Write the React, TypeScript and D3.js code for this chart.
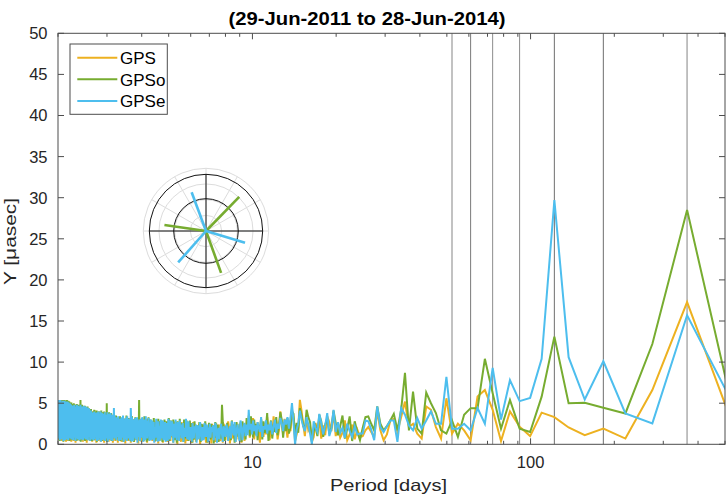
import React from "react";
import * as d3 from "d3";

// ---------- data ----------
const TITLE = "(29-Jun-2011 to 28-Jun-2014)";
const X_LABEL = "Period [days]";
const Y_LABEL = "Y [\u03BCasec]";
const SERIES_NAMES = ["GPS", "GPSo", "GPSe"];
const SERIES_COLORS = ["#EDB120", "#77AC30", "#4DBEEE"];
const SPAN_DAYS = 1096; // 29-Jun-2011 .. 28-Jun-2014
const HARMONICS = d3.range(2, 549); // Fourier bins k -> period SPAN_DAYS / k

const Y_TICKS = [0, 5, 10, 15, 20, 25, 30, 35, 40, 45, 50];
const X_TICKS = [10, 100];
const X_MINOR_TICKS = [2, 3, 4, 5, 6, 7, 8, 9, 20, 30, 40, 50, 60, 70, 80, 90, 200, 300, 400, 500];
const REF_PERIODS = [365.25, 182.625, 121.75, 91.3125, 73.05, 60.875, 52.18];
const REF_COLORS = ["#a8a8a8", "#6e6e6e", "#6e6e6e", "#8c8c8c", "#8c8c8c", "#7a7a7a", "#a8a8a8"];

// k = 2..45
const gpsLow = [1.3, 17.3, 6.6, 0.7, 1.9, 1.1, 2.05, 3.3, 3.85, 1.0, 2.15, 4.0, 0.4, 4.2, 6.6, 5.8, 0.5, 1.7, 2.5, 1.3, 5.6, 0.7, 2.1, 4.2, 4.6, 0.7, 1.3, 2.5, 2.1, 5.2, 3.3, 1.5, 3.1, 2.9, 1.2, 0.5, 1.7, 4.0, 0.9, 1.5, 2.1, 1.7, 1.0, 0.9];
const gpsoLow = [2.5, 28.5, 12.2, 3.75, 4.45, 5.05, 5.0, 13.1, 5.8, 1.5, 1.9, 5.4, 1.9, 6.2, 10.4, 4.4, 4.4, 3.6, 0.9, 2.9, 1.3, 1.7, 3.8, 5.0, 6.3, 1.3, 1.9, 6.4, 1.7, 8.7, 4.2, 1.7, 3.7, 2.9, 2.2, 1.7, 2.5, 4.6, 1.7, 2.5, 3.4, 3.3, 2.0, 0.5];
const gpseLow = [4.2, 15.7, 2.55, 3.75, 10.1, 5.45, 10.6, 29.7, 10.4, 5.65, 5.25, 7.8, 3.0, 9.3, 2.5, 4.4, 1.7, 2.5, 1.9, 1.9, 8.2, 2.5, 2.5, 4.0, 2.9, 1.9, 3.2, 1.7, 2.3, 3.6, 4.4, 0.3, 2.9, 2.9, 2.2, 1.5, 2.1, 4.6, 0.5, 1.8, 2.8, 2.9, 1.3, 1.3];

// k = 46..115
const gpsMid = [
  1.8, 0.6, 2.4, 1.2, 0.5, 2.9, 1.4, 0.8, 2.2, 1.0,
  3.9, 1.6, 2.7, 3.4, 1.1, 2.3, 0.7, 3.0, 1.5, 2.6,
  0.9, 0.3, 2.1, 1.7, 3.2, 1.0, 2.5, 4.1, 5.4, 2.0,
  1.2, 0.4, 3.0, 4.3, 1.6, 2.8, 0.8, 2.2, 3.1, 1.3,
  2.5, 4.0, 1.7, 0.6, 2.9, 1.9, 3.4, 1.1, 2.3, 0.5,
  1.8, 3.3, 1.2, 2.6, 0.9, 2.1, 3.0, 0.2, 1.5, 2.7,
  1.1, 2.4, 0.6, 3.2, 1.7, 2.0, 0.8, 3.5, 1.4, 2.6,
];
const gpsoMid = [
  1.5, 2.8, 0.4, 3.4, 1.9, 0.7, 3.5, 2.2, 1.1, 2.6,
  4.1, 2.0, 1.3, 3.1, 2.4, 0.9, 2.8, 3.6, 1.0, 2.2,
  1.6, 0.5, 2.7, 3.3, 4.2, 1.8, 2.3, 3.5, 4.4, 1.4,
  2.6, 1.0, 3.7, 4.0, 2.1, 1.3, 3.2, 1.6, 2.7, 0.8,
  3.0, 3.9, 2.2, 1.1, 3.3, 1.5, 2.4, 0.7, 2.9, 1.8,
  0.4, 3.8, 2.0, 1.4, 2.8, 0.6, 3.1, 1.9, 2.3, 0.5,
  2.5, 1.2, 3.0, 0.8, 2.2, 3.4, 1.0, 2.6, 1.5, 3.2,
];
const gpseMid = [
  1.2, 2.2, 0.9, 1.6, 2.5, 0.8, 2.0, 1.4, 2.7, 1.5,
  4.2, 1.9, 1.0, 3.8, 2.3, 1.2, 2.6, 3.7, 1.5, 2.0,
  2.8, 0.0, 1.3, 2.4, 3.3, 1.6, 2.2, 3.0, 4.1, 2.5,
  1.8, 0.0, 2.7, 5.0, 3.2, 1.9, 3.3, 2.4, 3.0, 1.6,
  2.6, 3.2, 1.9, 2.5, 1.4, 3.0, 2.1, 1.2, 2.8, 1.7,
  2.4, 1.3, 2.9, 1.8, 2.2, 0.9, 3.3, 1.5, 2.0, 2.7,
  1.0, 2.3, 1.6, 2.9, 1.2, 2.5, 1.8, 4.2, 1.1, 2.4,
];

// k = 116..548
const gpsDense = [
  2.1, 0.4, 2.5, 1.0, 0.2, 2.7, 1.5, 0.6, 2.2, 1.8,
  0.3, 2.4, 1.2, 0.7, 2.6, 1.6, 0.1, 2.0, 2.8, 0.9,
  2.3, 0.5, 1.7, 2.5, 0.2, 1.9, 1.1, 0.4, 2.4, 1.4,
  2.0, 0.6, 2.6, 0.3, 1.6, 2.2, 0.8, 2.5, 0.1, 1.8,
  0.9, 2.3, 0.4, 2.1, 1.3, 0.2, 2.6, 1.0, 1.7, 2.4,
  0.5, 2.0, 1.2, 0.0, 2.5, 1.5, 0.7, 2.2, 1.9, 0.3,
  2.4, 1.1, 0.6, 2.7, 1.4, 2.0, 0.2, 1.8, 0.8, 2.5,
  1.0, 2.6, 0.4, 2.2, 1.3, 0.1, 2.8, 1.6, 0.5, 2.3,
  1.2, 2.7, 0.3, 1.9, 2.4, 0.7, 1.5, 2.6, 0.0, 2.1,
  1.4, 0.6, 2.8, 1.1, 2.3, 0.2, 1.8, 2.5, 0.9, 2.0,
  0.4, 2.6, 1.5, 0.8, 2.9, 1.2, 0.3, 2.4, 1.7, 2.1,
  0.6, 2.3, 1.0, 2.7, 0.2, 1.9, 2.5, 0.9, 1.4, 2.8,
  0.5, 2.0, 1.3, 0.1, 2.6, 1.6, 2.2, 0.7, 2.9, 1.1,
  0.3, 2.5, 1.8, 0.8, 2.2, 0.4, 2.7, 1.3, 0.6, 2.4,
  1.5, 2.9, 0.5, 2.1, 1.2, 3.1, 0.2, 2.6, 1.7, 0.8,
  3.0, 1.1, 2.3, 0.4, 2.8, 1.4, 0.7, 3.2, 1.9, 0.3,
  2.5, 1.3, 3.0, 0.6, 2.2, 1.6, 0.1, 2.9, 1.2, 2.4,
  0.5, 3.1, 1.5, 0.9, 2.7, 1.1, 0.3, 3.0, 1.8, 2.2,
  0.7, 2.6, 1.4, 3.3, 0.2, 2.4, 1.0, 2.9, 0.6, 3.2,
  1.6, 0.4, 2.8, 1.2, 3.0, 0.8, 2.3, 1.5, 0.1, 3.1,
  1.3, 2.5, 0.6, 3.2, 1.7, 0.9, 2.7, 1.1, 0.3, 2.9,
  1.9, 0.5, 3.3, 1.0, 2.4, 0.7, 3.0, 1.4, 0.2, 2.8,
  1.2, 3.1, 0.6, 2.6, 1.5, 0.4, 3.4, 1.1, 2.2, 0.8,
  3.2, 1.3, 0.2, 3.5, 1.7, 2.8, 0.5, 3.3, 1.0, 2.6,
  0.7, 3.6, 1.4, 2.9, 0.3, 3.4, 1.2, 0.8, 3.8, 1.6,
  2.7, 0.4, 3.5, 1.1, 3.1, 0.6, 3.9, 1.5, 0.2, 3.3,
  1.3, 3.7, 0.8, 2.9, 1.6, 0.5, 3.8, 1.0, 3.2, 0.3,
  3.6, 1.4, 0.7, 4.0, 1.2, 3.3, 0.4, 3.7, 1.7, 0.9,
  3.9, 1.1, 3.4, 0.2, 3.6, 1.5, 0.6, 4.1, 1.3, 3.0,
  0.5, 3.8, 1.6, 0.8, 3.5, 1.2, 4.0, 0.3, 3.3, 1.4,
  0.7, 4.2, 1.0, 3.6, 1.8, 0.4, 4.0, 1.3, 3.4, 0.6,
  4.3, 1.5, 0.9, 4.1, 1.1, 3.7, 0.2, 4.4, 1.6, 0.8,
  3.9, 1.2, 4.5, 0.5, 3.8, 1.4, 0.7, 4.6, 1.0, 4.0,
  0.3, 4.4, 1.7, 0.9, 4.2, 1.3, 4.7, 0.6, 3.9, 1.1,
  0.4, 4.5, 1.5, 4.1, 0.8, 4.6, 1.2, 0.5, 4.3, 1.6,
  4.7, 0.9, 4.2, 1.3, 0.6, 4.8, 1.0, 4.4, 0.2, 4.5,
  1.4, 0.7, 4.6, 1.1, 4.9, 0.4, 4.3, 1.5, 0.8, 4.7,
  1.2, 4.5, 0.6, 4.8, 1.3, 0.3, 5.0, 1.0, 4.4, 0.9,
  4.9, 1.4, 0.5, 5.1, 1.1, 4.7, 0.8, 5.2, 1.3, 0.4,
  5.0, 1.6, 4.8, 0.7, 5.3, 1.0, 4.9, 0.3, 5.1, 1.2,
  0.6, 5.2, 1.4, 4.9, 0.9, 5.3, 1.1, 0.5, 5.0, 1.5,
  5.4, 0.8, 5.1, 1.2, 0.4, 5.2, 1.3, 4.9, 0.7, 5.3,
  1.0, 5.1, 0.6, 5.4, 1.4, 4.8, 0.9, 5.3, 1.1, 0.5,
  5.2, 1.3, 4.9,
];
const gpsoDense = [
  0.6, 2.3, 1.4, 2.8, 0.3, 1.9, 2.5, 0.9, 1.6, 2.7,
  1.1, 0.2, 2.4, 1.7, 2.9, 0.5, 2.1, 1.3, 0.8, 2.6,
  1.4, 2.2, 0.4, 1.9, 2.6, 4.8, 0.7, 2.0, 1.5, 0.3,
  2.4, 1.2, 0.8, 2.7, 1.6, 0.1, 2.3, 1.4, 2.5, 0.6,
  1.8, 2.6, 0.9, 0.2, 2.2, 1.5, 2.8, 0.7, 1.3, 2.4,
  1.0, 2.5, 0.3, 1.9, 2.7, 0.8, 1.6, 2.3, 0.5, 2.0,
  1.3, 2.8, 0.6, 2.1, 0.2, 2.6, 1.4, 0.9, 2.9, 1.1,
  0.4, 2.5, 1.7, 2.9, 0.7, 2.2, 1.2, 3.0, 0.3, 1.8,
  2.6, 0.9, 2.0, 1.5, 3.1, 0.6, 2.3, 1.1, 2.8, 0.2,
  1.9, 2.7, 0.5, 2.4, 1.3, 3.0, 0.8, 2.1, 1.6, 2.9,
  1.0, 2.3, 0.4, 3.2, 1.7, 2.5, 0.6, 2.8, 1.2, 2.0,
  1.5, 3.0, 0.7, 2.2, 1.8, 0.3, 2.9, 1.1, 2.6, 1.4,
  2.8, 0.5, 2.0, 3.1, 1.2, 0.9, 2.4, 1.9, 0.4, 2.7,
  1.6, 0.8, 3.2, 1.0, 2.5, 1.7, 0.6, 2.8, 1.3, 3.0,
  0.9, 2.4, 1.5, 3.3, 0.5, 2.7, 1.8, 0.3, 3.0, 1.2,
  2.2, 0.7, 3.4, 1.6, 2.5, 0.4, 2.9, 1.3, 3.1, 0.8,
  1.9, 2.6, 1.1, 0.5, 5.4, 1.4, 2.3, 0.9, 3.2, 1.7,
  2.8, 0.6, 2.1, 3.3, 1.0, 2.6, 0.3, 3.0, 1.5, 2.4,
  1.2, 3.4, 0.7, 2.9, 1.8, 0.4, 3.1, 1.3, 2.5, 0.9,
  3.2, 1.6, 0.5, 2.8, 1.1, 3.5, 0.8, 2.4, 1.4, 3.0,
  0.6, 2.7, 1.9, 0.3, 3.3, 1.2, 2.6, 0.9, 3.1, 1.5,
  2.2, 0.4, 3.4, 1.7, 2.8, 1.0, 0.6, 3.2, 1.3, 2.5,
  0.8, 3.0, 1.6, 3.5, 0.5, 2.7, 1.1, 3.3, 0.9, 2.4,
  1.4, 3.6, 0.7, 2.9, 1.2, 3.4, 0.4, 3.8, 1.5, 2.6,
  1.0, 3.5, 0.6, 3.9, 1.3, 2.8, 0.8, 3.7, 1.6, 0.3,
  5.0, 1.1, 3.3, 0.5, 3.8, 1.4, 2.9, 0.9, 4.0, 1.2,
  3.4, 0.7, 3.9, 1.5, 0.4, 3.6, 1.0, 4.1, 1.3, 3.2,
  0.8, 3.8, 1.6, 3.5, 0.6, 4.0, 1.2, 3.3, 0.9, 3.7,
  1.4, 0.3, 4.1, 1.1, 3.6, 0.7, 3.9, 1.5, 3.4, 1.0,
  4.2, 0.5, 3.7, 1.3, 3.5, 0.9, 4.0, 1.6, 0.4, 3.8,
  1.2, 4.3, 0.8, 3.9, 1.5, 4.1, 0.6, 3.6, 1.1, 4.4,
  0.9, 4.0, 1.4, 4.6, 0.5, 4.2, 1.2, 3.8, 0.7, 4.5,
  1.6, 4.1, 0.4, 4.7, 1.1, 4.3, 0.8, 4.0, 1.5, 4.6,
  0.6, 4.4, 1.3, 4.8, 0.9, 4.2, 1.7, 4.5, 0.3, 5.4,
  1.0, 4.6, 0.7, 4.3, 1.4, 4.8, 0.5, 4.4, 1.2, 4.7,
  0.8, 4.5, 1.6, 4.9, 0.4, 4.3, 1.1, 4.7, 0.9, 4.6,
  1.3, 4.8, 0.6, 4.4, 1.5, 5.0, 0.7, 4.5, 1.2, 4.9,
  0.5, 4.7, 1.4, 4.6, 0.8, 5.1, 1.0, 4.8, 0.6, 5.0,
  1.3, 4.9, 0.4, 5.2, 1.1, 4.8, 0.9, 5.3, 0.7, 5.0,
  1.5, 5.1, 0.6, 5.4, 1.2, 4.9, 0.8, 5.2, 1.0, 5.3,
  0.5, 5.0, 1.4, 5.4, 0.7, 5.1, 1.2, 5.3, 0.3, 5.2,
  1.1, 5.4, 0.8, 5.0, 1.3, 5.3, 0.6, 5.1, 1.0, 5.4,
  0.9, 5.2, 1.5, 5.3, 0.4, 5.0, 1.1, 5.4, 0.7, 5.2,
  1.2, 5.3, 0.8,
];
const gpseDense = [
  1.0, 2.6, 1.9, 0.5, 2.2, 2.9, 0.4, 1.3, 2.4, 1.6,
  0.3, 2.7, 1.1, 1.8, 2.8, 0.7, 2.2, 1.5, 0.4, 2.0,
  2.4, 0.9, 1.6, 2.2, 0.3, 1.2, 2.5, 1.9, 0.6, 2.0,
  1.4, 0.2, 2.2, 2.6, 1.0, 0.5, 2.3, 1.5, 2.1, 0.8,
  2.5, 1.2, 0.3, 1.9, 2.4, 0.9, 1.6, 2.6, 0.5, 1.3,
  2.1, 0.4, 1.7, 2.7, 1.1, 0.6, 2.3, 1.9, 0.2, 2.4,
  1.5, 2.2, 0.7, 1.3, 2.6, 0.3, 1.8, 2.1, 1.0, 0.5,
  2.8, 1.6, 0.6, 2.3, 3.1, 0.9, 1.4, 2.0, 0.3, 2.6,
  1.8, 0.7, 2.4, 1.1, 2.9, 0.4, 1.6, 2.7, 2.0, 0.5,
  1.2, 3.0, 0.8, 2.5, 1.7, 0.2, 2.2, 2.8, 1.0, 1.5,
  2.9, 0.6, 1.3, 2.1, 3.1, 0.4, 1.9, 2.6, 0.9, 0.3,
  2.7, 1.4, 2.0, 0.5, 2.9, 1.8, 0.7, 2.4, 3.0, 1.1,
  0.4, 2.2, 1.6, 2.8, 0.3, 2.5, 1.3, 3.1, 0.8, 2.1,
  1.5, 0.2, 2.7, 2.4, 0.6, 2.9, 1.2, 0.5, 3.0, 1.9,
  2.6, 0.4, 1.7, 3.2, 1.0, 2.3, 0.7, 2.9, 1.4, 3.4,
  0.5, 2.5, 1.9, 3.0, 0.3, 1.2, 2.7, 3.3, 0.8, 2.0,
  3.1, 1.5, 0.4, 2.6, 3.0, 0.9, 1.8, 2.8, 0.2, 3.3,
  1.3, 2.5, 0.6, 3.2, 1.9, 0.8, 2.7, 3.0, 0.4, 2.4,
  1.6, 3.3, 0.3, 2.8, 4.4, 1.1, 0.5, 2.6, 3.1, 1.4,
  0.7, 2.7, 1.8, 3.4, 0.4, 2.9, 1.3, 3.2, 0.6, 2.5,
  3.0, 1.0, 0.3, 2.8, 3.5, 1.5, 0.8, 2.6, 3.3, 0.5,
  2.9, 1.7, 0.6, 3.1, 2.2, 0.4, 2.7, 3.4, 1.2, 0.9,
  3.0, 2.6, 0.5, 3.3, 1.4, 2.8, 0.7, 3.5, 1.6, 4.4,
  0.8, 3.1, 2.0, 0.4, 2.9, 3.6, 1.1, 3.2, 0.5, 3.8,
  1.9, 3.0, 0.6, 3.7, 2.2, 0.9, 3.3, 0.3, 3.9, 1.5,
  2.9, 0.7, 3.6, 3.2, 1.2, 0.4, 3.9, 2.0, 3.4, 0.6,
  3.7, 1.6, 3.1, 0.5, 2.4, 3.8, 1.0, 3.5, 0.3, 4.0,
  2.1, 3.3, 0.8, 3.7, 1.4, 0.5, 4.0, 2.6, 3.6, 1.1,
  3.9, 0.4, 3.2, 2.3, 0.9, 3.8, 1.6, 3.5, 0.6, 4.0,
  2.8, 1.2, 3.6, 0.5, 3.9, 2.4, 0.8, 3.4, 3.7, 1.3,
  0.6, 4.1, 2.0, 3.8, 0.4, 3.6, 1.5, 4.3, 2.7, 0.9,
  4.4, 1.8, 0.5, 4.0, 3.1, 0.8, 4.5, 2.2, 3.8, 0.6,
  4.6, 1.3, 4.2, 2.9, 0.7, 4.3, 1.0, 4.7, 3.4, 0.5,
  4.1, 2.4, 4.5, 0.9, 3.7, 4.6, 0.6, 4.2, 1.8, 4.8,
  0.8, 4.3, 3.0, 0.5, 4.6, 2.1, 4.4, 1.2, 4.7, 0.6,
  3.6, 4.5, 1.0, 4.8, 2.6, 0.7, 4.3, 3.9, 0.4, 4.6,
  1.7, 4.5, 0.8, 4.8, 3.2, 1.1, 4.3, 0.5, 4.6, 2.8,
  4.7, 0.9, 3.8, 4.4, 0.6, 4.8, 1.9, 4.5, 0.7, 4.9,
  2.5, 5.0, 0.8, 4.7, 3.6, 1.0, 5.1, 0.5, 4.8, 2.2,
  5.2, 0.9, 4.9, 3.3, 0.6, 5.0, 1.5, 5.2, 0.8, 4.6,
  3.9, 0.5, 5.1, 2.4, 5.3, 0.9, 4.8, 1.4, 5.0, 0.4,
  5.3, 2.9, 0.7, 5.1, 4.2, 1.0, 5.2, 0.6, 4.9, 3.5,
  0.8, 5.4, 1.6, 5.0, 0.5, 5.3, 3.1, 0.9, 5.4, 1.2,
  5.2, 0.7, 5.3,
];

const gpsAmp = [...gpsLow, ...gpsMid, ...gpsDense];
const gpsoAmp = [...gpsoLow, ...gpsoMid, ...gpsoDense];
const gpseAmp = [...gpseLow, ...gpseMid, ...gpseDense];
const SERIES_VALUES = [gpsAmp, gpsoAmp, gpseAmp];

// polar inset: phase (deg, counter-clockwise from east) and normalised amplitude
const polarGpsoAngles = [45.8, 171.8, -70.2];
const polarGpsoRadii = [0.76, 0.67, 0.71];
const polarGpseAngles = [110.3, -16.7, 228.5];
const polarGpseRadii = [0.66, 0.65, 0.67];
const POLAR_GRID_RINGS = [0.25, 0.5, 0.75, 1];
const POLAR_REF_RINGS = [0.515, 0.904];
const POLAR_SPOKE_ANGLES = [0, 30, 60, 90, 120, 150, 180, 210, 240, 270, 300, 330];

const FONT = "'Liberation Sans', Arial, Helvetica, sans-serif";
const TEXT_COLOR = "#262626";
const AXIS_COLOR = "#4d4d4d";

export default function App() {
  const W = 727;
  const H = 495;
  const left = 58, right = 725, top = 33.3, bottom = 444.3;

  const x = d3.scaleLog().domain([2, 500]).range([left, right]);
  const y = d3.scaleLinear().domain([0, 50]).range([bottom, top]);

  const line = d3
    .line<{ p: number; v: number }>()
    .x((d) => x(d.p))
    .y((d) => y(d.v));

  const series = SERIES_VALUES.map((vals) =>
    vals.map((v, i) => ({ p: SPAN_DAYS / HARMONICS[i], v }))
  );

  // polar inset
  const pcx = 206, pcy = 231;
  const r = d3.scaleLinear().domain([0, 1]).range([0, 62.7]);
  const polarPt = (deg: number, rv: number) => {
    const a = (deg * Math.PI) / 180;
    return [pcx + r(rv) * Math.cos(a), pcy - r(rv) * Math.sin(a)];
  };
  const polarSets = [
    { angles: polarGpsoAngles, radii: polarGpsoRadii, color: SERIES_COLORS[1] },
    { angles: polarGpseAngles, radii: polarGpseRadii, color: SERIES_COLORS[2] },
  ];

  const majorTick = 6;
  const minorTick = 3.5;

  const legendY = [57.7, 79.3, 101];

  return (
    <div style={{ position: "absolute", left: 0, top: 0 }}>
      <svg width={W} height={H} style={{ display: "block", background: "#fff" }}>
        <defs>
          <clipPath id="plotClip">
            <rect x={left} y={0} width={right - left} height={H} />
          </clipPath>
        </defs>
        <rect x={0} y={0} width={W} height={H} fill="#fff" />

        {/* reference period lines */}
        {REF_PERIODS.map((p, i) => (
          <line
            key={"ref" + i}
            x1={x(p)}
            x2={x(p)}
            y1={top}
            y2={bottom}
            stroke={REF_COLORS[i]}
            strokeWidth={i === 0 || i === 6 ? 1.4 : 1}
          />
        ))}

        {/* data */}
        <g clipPath="url(#plotClip)">
          {series.map((s, i) => (
            <path
              key={SERIES_NAMES[i]}
              d={line(s) || ""}
              fill="none"
              stroke={SERIES_COLORS[i]}
              strokeWidth={2}
              strokeLinejoin="miter"
            />
          ))}
        </g>

        {/* axes box */}
        <rect
          x={left}
          y={top}
          width={right - left}
          height={bottom - top}
          fill="none"
          stroke={AXIS_COLOR}
          strokeWidth={1}
        />

        {/* y ticks */}
        {Y_TICKS.map((t) => (
          <g key={"yt" + t}>
            <line x1={left} x2={left + majorTick} y1={y(t)} y2={y(t)} stroke={AXIS_COLOR} />
            <line x1={right} x2={right - majorTick} y1={y(t)} y2={y(t)} stroke={AXIS_COLOR} />
            <text
              x={47.5}
              y={y(t)}
              dy="0.36em"
              textAnchor="end"
              fontFamily={FONT}
              fontSize={16.5}
              fill={TEXT_COLOR}
            >
              {t}
            </text>
          </g>
        ))}

        {/* x ticks */}
        {X_MINOR_TICKS.map((t) => (
          <g key={"xm" + t}>
            <line x1={x(t)} x2={x(t)} y1={bottom} y2={bottom - minorTick} stroke={AXIS_COLOR} />
            <line x1={x(t)} x2={x(t)} y1={top} y2={top + minorTick} stroke={AXIS_COLOR} />
          </g>
        ))}
        {X_TICKS.map((t) => (
          <g key={"xt" + t}>
            <line x1={x(t)} x2={x(t)} y1={bottom} y2={bottom - majorTick} stroke={AXIS_COLOR} />
            <line x1={x(t)} x2={x(t)} y1={top} y2={top + majorTick} stroke={AXIS_COLOR} />
            <text
              x={x(t)}
              y={467.5}
              textAnchor="middle"
              fontFamily={FONT}
              fontSize={16.5}
              fill={TEXT_COLOR}
            >
              {t}
            </text>
          </g>
        ))}

        {/* labels */}
        <text
          x={228.5}
          y={24.5}
          fontFamily={FONT}
          fontWeight="bold"
          fontSize={17.5}
          fill="#000"
          textLength={277}
          lengthAdjust="spacingAndGlyphs"
        >
          {TITLE}
        </text>
        <text
          x={330}
          y={491}
          fontFamily={FONT}
          fontSize={16.5}
          fill={TEXT_COLOR}
          textLength={117}
          lengthAdjust="spacingAndGlyphs"
        >
          {X_LABEL}
        </text>
        <text
          transform="translate(15.5,285) rotate(-90)"
          x={0}
          y={0}
          fontFamily={FONT}
          fontSize={16.5}
          fill={TEXT_COLOR}
          textLength={87}
          lengthAdjust="spacingAndGlyphs"
        >
          {Y_LABEL}
        </text>

        {/* legend */}
        <rect x={70} y={44} width={97.3} height={70.3} fill="#fff" stroke={AXIS_COLOR} strokeWidth={1} />
        {SERIES_NAMES.map((n, i) => (
          <g key={"lg" + n}>
            <line x1={77.3} x2={117.3} y1={legendY[i]} y2={legendY[i]} stroke={SERIES_COLORS[i]} strokeWidth={2} />
            <text
              x={120}
              y={legendY[i] + 6.3}
              fontFamily={FONT}
              fontSize={17}
              fill="#000"
            >
              {n}
            </text>
          </g>
        ))}

        {/* polar inset */}
        <g>
          <circle cx={pcx} cy={pcy} r={r(1)} fill="#fff" stroke="none" />
          {POLAR_SPOKE_ANGLES.map((a) => {
            const [ex, ey] = polarPt(a, 1);
            return <line key={"ps" + a} x1={pcx} y1={pcy} x2={ex} y2={ey} stroke="#dcdcdc" strokeWidth={1} />;
          })}
          {POLAR_GRID_RINGS.map((g) => (
            <circle key={"pg" + g} cx={pcx} cy={pcy} r={r(g)} fill="none" stroke="#dcdcdc" strokeWidth={1} />
          ))}
          {POLAR_REF_RINGS.map((g) => (
            <circle key={"pr" + g} cx={pcx} cy={pcy} r={r(g)} fill="none" stroke="#111" strokeWidth={1} />
          ))}
          <line x1={pcx - r(0.904)} x2={pcx + r(0.904)} y1={pcy} y2={pcy} stroke="#111" strokeWidth={1} />
          <line x1={pcx} x2={pcx} y1={pcy - r(0.904)} y2={pcy + r(0.904)} stroke="#111" strokeWidth={1} />
          {polarSets.map((s, si) =>
            s.angles.map((a, j) => {
              const [ex, ey] = polarPt(a, s.radii[j]);
              return (
                <line
                  key={"pv" + si + "-" + j}
                  x1={pcx}
                  y1={pcy}
                  x2={ex}
                  y2={ey}
                  stroke={s.color}
                  strokeWidth={2.6}
                />
              );
            })
          )}
        </g>
      </svg>
    </div>
  );
}
